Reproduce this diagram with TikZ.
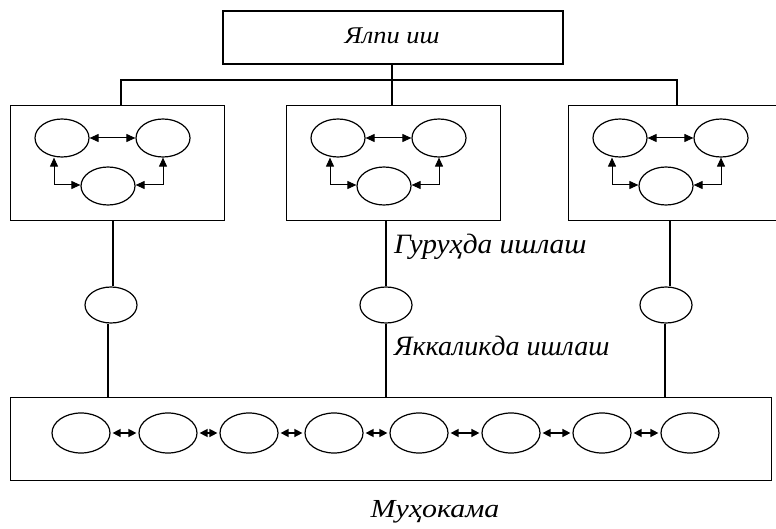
\documentclass[tikz,border=0pt]{standalone}
\usepackage{fontspec}
\setmainfont{Liberation Serif}
\usetikzlibrary{shapes.geometric,arrows.meta}
\tikzset{
  frame/.style={draw,line width=1.4pt},
  oval/.style={draw,ellipse,line width=1.2pt,inner sep=0pt,minimum width=54pt,minimum height=38pt},
  soval/.style={draw,ellipse,line width=1.2pt,inner sep=0pt,minimum width=52pt,minimum height=36pt},
  boval/.style={draw,ellipse,line width=1.2pt,inner sep=0pt,minimum width=58pt,minimum height=40pt},
  dbl/.style={line width=1pt,{Triangle[length=9pt,width=8pt]}-{Triangle[length=9pt,width=8pt]}},
  sdbl/.style={line width=1.4pt,shorten <=2pt,shorten >=2pt,{Triangle[length=8pt,width=8pt]}-{Triangle[length=8pt,width=8pt]}},
  conn/.style={line width=1.2pt},
  lbl/.style={inner sep=0pt}
}
\begin{document}
\begin{tikzpicture}[x=1pt,y=-1pt]
\useasboundingbox (0,0) rectangle (776,529);
\fill[white] (0,0) rectangle (776,529);
% top box
\node[frame,minimum width=340pt,minimum height=53pt,inner sep=0pt] (top) at (393,37.5) {};
\node[lbl,font=\itshape\fontsize{24}{28}\selectfont,xscale=1.1] (toplbl) at (392,36) {Ялпи иш};
% group boxes
\foreach \n/\x/\w in {L/10/214,M/286/214,R/568/212}{
  \node[frame,minimum width=\w pt,minimum height=115pt,inner sep=0pt,anchor=north west] (box\n) at (\x,105) {};
  \node[oval] (a\n) at (\x+52,138) {};
  \node[oval] (b\n) at (\x+153,138) {};
  \node[oval] (c\n) at (\x+98,186) {};
  \draw[dbl] (a\n.east) -- (b\n.west);
  \draw[dbl] ([xshift=-8pt]a\n.south) |- ([yshift=1pt]c\n.west);
  \draw[dbl] ([yshift=1pt]c\n.east) -| (b\n.south);
}
% tree connectors
\coordinate (hl) at (121,80);
\coordinate (hr) at (677,80);
\coordinate (hm) at (392,80);
\draw[conn] (top.south -| hm) -- (hm);
\draw[conn] (hl |- boxL.north) -- (hl) -- (hr) -- (hr |- boxR.north);
\draw[conn,line width=1.8pt] (hm) -- (hm |- boxM.north);
% small individual ellipses
\node[soval] (sL) at (111,305) {};
\node[soval] (sM) at (386,305) {};
\node[soval] (sR) at (666,305) {};
% bottom box
\node[frame,minimum width=761pt,minimum height=83pt,inner sep=0pt,anchor=north west] (bot) at (10,396.5) {};
\draw[conn] (boxL.south -| 113,0) -- (113,0 |- sL.north);
\draw[conn] (sL.south -| 108,0) -- (108,0 |- bot.north);
\draw[conn] (boxM.south -| sM) -- (sM.north);
\draw[conn] (sM.south) -- (sM.south |- bot.north);
\draw[conn] (boxR.south -| 670,0) -- (670,0 |- sR.north);
\draw[conn] (sR.south -| 665,0) -- (665,0 |- bot.north);
% bottom row
\foreach \i/\x in {1/81,2/168,3/249,4/334,5/419,6/511,7/602,8/690}{
  \node[boval] (d\i) at (\x,433) {};
}
\foreach \i/\j in {1/2,2/3,3/4,4/5,5/6,6/7,7/8}{
  \draw[sdbl] (d\i.east) -- (d\j.west);
}
% labels
\node[lbl,font=\itshape\fontsize{28}{32}\selectfont,xscale=1.05,anchor=west] (grp) at (394,247) {Гуруҳда ишлаш};
\node[lbl,font=\itshape\fontsize{28}{32}\selectfont,xscale=1.0,anchor=west] (ind) at (394,346) {Яккаликда ишлаш};
\node[lbl,font=\itshape\fontsize{26}{30}\selectfont,xscale=1.15] (dis) at (435,512) {Муҳокама};
\end{tikzpicture}
\end{document}
